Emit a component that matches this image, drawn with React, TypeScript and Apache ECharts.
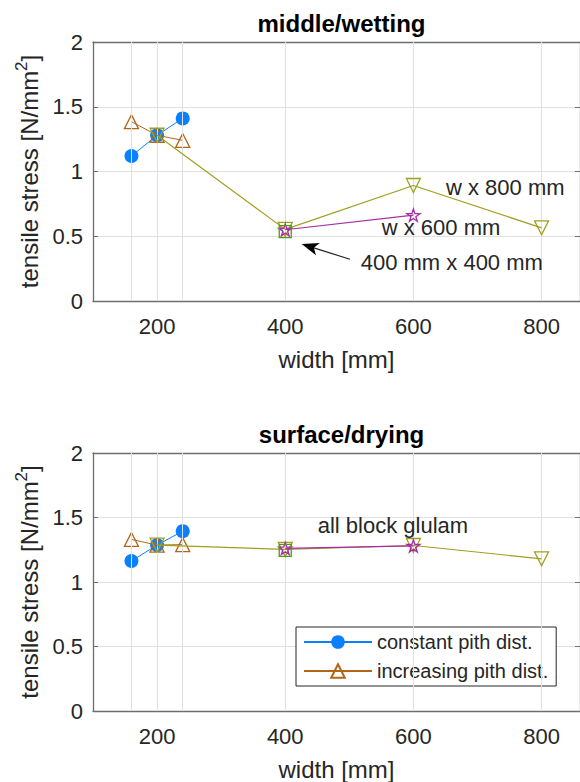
import React, { useEffect, useRef } from "react";
import * as echarts from "echarts";

// ---- data ----
const pithWidths = [160, 200, 240];
const blockWidths = [200, 400, 600, 800];
const w600Widths = [400, 600];
const squareWidths = [400];

// middle / wetting
const constantTop = [1.12, 1.28, 1.41];
const increasingTop = [1.385, 1.28, 1.24];
const w800Top = [1.28, 0.553, 0.892, 0.565];
const w600Top = [0.55, 0.663];
const squareTop = [0.535];

// surface / drying
const constantBot = [1.163, 1.286, 1.394];
const increasingBot = [1.33, 1.286, 1.29];
const w800Bot = [1.286, 1.253, 1.283, 1.18];
const w600Bot = [1.26, 1.28];
const squareBot = [1.245];

const xGridValues = [160, 200, 240, 400, 600, 800];
const xLabelValues = [200, 400, 600, 800];
const titles = ["middle/wetting", "surface/drying"];
const legendNames = ["constant pith dist.", "increasing pith dist."];

const TXT = "#262626";
const AX = "#6e6e6e";
const GRIDC = "#e0e0e0";
const BLUE = "#0a80ff";
const BROWN = "#b3661a";
const OLIVE = "#a0a020";
const PURPLE = "#a62ca6";
const GREEN = "#4c9a1a";
const STAR =
  "path://M50,0 L61,35 L98,35 L68,57 L79,91 L50,70 L21,91 L32,57 L2,35 L39,35 Z";

const zip = (xs: number[], ys: number[]) => xs.map((x, i) => [x, ys[i]]);

function seriesFor(g: number, c: number[], inc: number[], w8: number[], w6: number[], sq: number[]) {
  const xi = g * 2;
  const yi = g * 2;
  const base = { type: "line", xAxisIndex: xi, yAxisIndex: yi, animation: false };
  return [
    {
      ...base,
      name: "grid" + g,
      data: [],
      z: 1,
      silent: true,
      markLine: {
        silent: true,
        symbol: "none",
        label: { show: false },
        lineStyle: { color: GRIDC, width: 1, type: "solid" },
        data: xGridValues.map((v) => ({ xAxis: v })),
        animation: false,
      },
    },
    {
      ...base,
      name: legendNames[0],
      data: zip(pithWidths, c),
      symbol: "circle",
      symbolSize: 14,
      itemStyle: { color: BLUE },
      lineStyle: { color: BLUE, width: 1 },
      z: 3,
    },
    {
      ...base,
      name: legendNames[1],
      data: zip(pithWidths, inc),
      symbol: "triangle",
      symbolSize: 14,
      itemStyle: { color: "rgba(0,0,0,0)", borderColor: BROWN, borderWidth: 1.3 },
      lineStyle: { color: BROWN, width: 1 },
      z: 4,
    },
    {
      ...base,
      name: "w x 800 mm",
      data: zip(blockWidths, w8),
      symbol: "triangle",
      symbolRotate: 180,
      symbolSize: 14,
      itemStyle: { color: "rgba(0,0,0,0)", borderColor: OLIVE, borderWidth: 1.3 },
      lineStyle: { color: OLIVE, width: 1.2 },
      z: 5,
    },
    {
      ...base,
      name: "w x 600 mm",
      data: zip(w600Widths, w6),
      symbol: STAR,
      symbolKeepAspect: true,
      symbolSize: 13,
      itemStyle: { color: "rgba(0,0,0,0)", borderColor: PURPLE, borderWidth: 1.3 },
      lineStyle: { color: PURPLE, width: 1.2 },
      z: 6,
    },
    {
      ...base,
      name: "400 mm x 400 mm",
      data: zip(squareWidths, sq),
      symbol: "rect",
      symbolSize: 12,
      itemStyle: { color: "rgba(0,0,0,0)", borderColor: GREEN, borderWidth: 1.3 },
      lineStyle: { color: GREEN, width: 1 },
      z: 7,
    },
  ];
}

export default function App() {
  const ref = useRef<HTMLDivElement>(null);
  useEffect(() => {
    if (!ref.current) return;
    const chart = echarts.init(ref.current, null, { renderer: "svg" });
    const gridTops = [42, 453];
    const xAxes: any[] = [];
    const yAxes: any[] = [];
    gridTops.forEach((_, g) => {
      xAxes.push({
        type: "value",
        gridIndex: g,
        position: "bottom",
        min: 100,
        max: 860,
        name: "width [mm]",
        nameLocation: "middle",
        nameGap: 46,
        nameTextStyle: { fontSize: 24, color: TXT, fontFamily: "Liberation Sans" },
        axisLine: { show: true, onZero: false, lineStyle: { color: AX, width: 1.3 } },
        axisTick: { show: true, inside: true, length: 5, customValues: xGridValues, lineStyle: { color: AX } },
        axisLabel: { show: true, customValues: xLabelValues, margin: 14, fontSize: 22, color: TXT, fontFamily: "Liberation Sans" },
        splitLine: { show: false },
      });
      xAxes.push({
        type: "value",
        gridIndex: g,
        position: "top",
        min: 100,
        max: 860,
        axisLine: { show: true, onZero: false, lineStyle: { color: AX, width: 1.3 } },
        axisTick: { show: true, inside: true, length: 5, customValues: xGridValues, lineStyle: { color: AX } },
        axisLabel: { show: false },
        splitLine: { show: false },
      });
      yAxes.push({
        type: "value",
        gridIndex: g,
        position: "left",
        min: 0,
        max: 2,
        interval: 0.5,
        name: "tensile stress [N/mm{sup|2}]",
        nameLocation: "middle",
        nameGap: 37,
        nameRotate: 90,
        nameTextStyle: {
          fontSize: 24,
          color: TXT,
          fontFamily: "Liberation Sans",
          rich: { sup: { fontSize: 17, color: TXT, fontFamily: "Liberation Sans", verticalAlign: "top", lineHeight: 34 } },
        },
        axisLine: { show: true, onZero: false, lineStyle: { color: AX, width: 1.3 } },
        axisTick: { show: true, inside: true, length: 5, lineStyle: { color: AX } },
        axisLabel: { margin: 10, fontSize: 22, color: TXT, fontFamily: "Liberation Sans" },
        splitLine: { show: true, lineStyle: { color: GRIDC, width: 1 } },
      });
      yAxes.push({
        type: "value",
        gridIndex: g,
        position: "right",
        min: 0,
        max: 2,
        interval: 0.5,
        axisLine: { show: true, onZero: false, lineStyle: { color: AX, width: 1.3 } },
        axisTick: { show: true, inside: true, length: 5, lineStyle: { color: AX } },
        axisLabel: { show: false },
        splitLine: { show: false },
      });
    });

    const txt = (text: string, x: number, y: number) => ({
      type: "text",
      x,
      y,
      style: { text, fill: TXT, fontSize: 22, fontFamily: "Liberation Sans", align: "left", verticalAlign: "middle" },
      z: 100,
    });

    // arrow geometry
    const tip = [301.7, 244];
    const tail = [350, 259.3];
    const dx = tail[0] - tip[0];
    const dy = tail[1] - tip[1];
    const len = Math.hypot(dx, dy);
    const ux = dx / len;
    const uy = dy / len;
    const hl = 17;
    const hw = 6.5;
    const bx = tip[0] + ux * hl;
    const by = tip[1] + uy * hl;
    const nx = -uy;
    const ny = ux;
    const notchX = tip[0] + ux * hl * 0.75;
    const notchY = tip[1] + uy * hl * 0.75;

    chart.setOption({
      animation: false,
      backgroundColor: "#ffffff",
      textStyle: { fontFamily: "Liberation Sans" },
      title: titles.map((t, i) => ({
        text: t,
        left: 336.5,
        top: gridTops[i] - 36,
        textAlign: "center",
        textStyle: { fontSize: 24, fontWeight: "bold", color: "#000", fontFamily: "Liberation Sans" },
      })),
      grid: gridTops.map((t) => ({ left: 93, top: t, width: 487, height: 259, containLabel: false })),
      xAxis: xAxes,
      yAxis: yAxes,
      legend: {
        data: legendNames,
        orient: "vertical",
        left: 296,
        top: 627,
        itemWidth: 68,
        itemHeight: 17,
        itemGap: 9,
        padding: [5, 8, 5, 7],
        borderColor: "#262626",
        borderWidth: 1,
        backgroundColor: "#fff",
        textStyle: { fontSize: 20, color: TXT, fontFamily: "Liberation Sans", lineHeight: 20 },
        selectedMode: false,
      },
      series: [
        ...seriesFor(0, constantTop, increasingTop, w800Top, w600Top, squareTop),
        ...seriesFor(1, constantBot, increasingBot, w800Bot, w600Bot, squareBot),
      ],
      graphic: [
        txt("w x 800 mm", 446, 187),
        txt("w x 600 mm", 381.7, 227.5),
        txt("400 mm x 400 mm", 360.7, 262.5),
        txt("all block glulam", 317.7, 525.5),
        {
          type: "line",
          shape: { x1: tail[0], y1: tail[1], x2: notchX, y2: notchY },
          style: { stroke: "#262626", lineWidth: 1.2 },
          z: 100,
        },
        {
          type: "polygon",
          shape: {
            points: [
              [tip[0], tip[1]],
              [bx + nx * hw, by + ny * hw],
              [notchX, notchY],
              [bx - nx * hw, by - ny * hw],
            ],
          },
          style: { fill: "#000" },
          z: 100,
        },
      ],
    });
    return () => chart.dispose();
  }, []);
  return <div ref={ref} style={{ position: "absolute", left: 0, top: 0, width: 580, height: 782 }} />;
}
